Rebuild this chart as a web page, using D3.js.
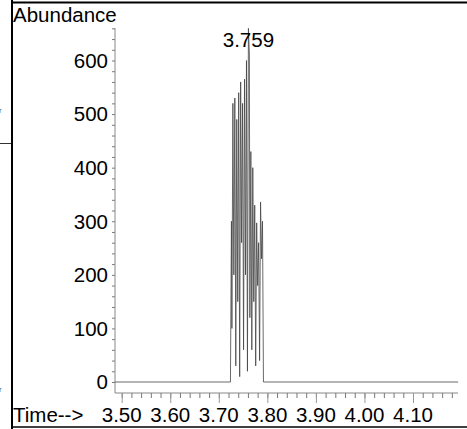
<!DOCTYPE html>
<html>
<head>
<meta charset="utf-8">
<script src="https://cdn.jsdelivr.net/npm/d3@7"></script>
<style>
  body { margin: 0; background: #fff; }
  svg { display: block; }
  text { font-family: "Liberation Sans", Arial, sans-serif; }
</style>
</head>
<body>
<div class="chart"></div>
<script>
// retention times (min) and abundance
var traceTime = [3.486, 3.724, 3.726, 3.727, 3.729, 3.731, 3.733, 3.735, 3.737, 3.739,
  3.741, 3.743, 3.745, 3.747, 3.749, 3.751, 3.753, 3.755, 3.757, 3.759, 3.761,
  3.763, 3.764, 3.766, 3.768, 3.770, 3.772, 3.774, 3.776, 3.778, 3.780, 3.782,
  3.784, 3.786, 3.788, 3.790, 3.792, 4.193];
var traceAbundance = [0, 0, 300, 100, 520, 200, 530, 30, 490, 150,
  540, 10, 560, 260, 520, 60, 565, 200, 600, 20, 660,
  610, 120, 430, 60, 400, 150, 330, 30, 297, 180, 260,
  40, 336, 230, 300, 0, 0];

var yMajorTicks = [0, 100, 200, 300, 400, 500, 600];
var xTickLabels = ["3.50", "3.60", "3.70", "3.80", "3.90", "4.00", "4.10"];
var peakLabel = {time: 3.761, abundance: 660, text: "3.759"};

var svg = d3.select(".chart").append("svg")
  .attr("width", 467)
  .attr("height", 429);

// scales
var x = d3.scaleLinear().domain([3.5, 4.1]).range([121.7, 413]);
var y = d3.scaleLinear().domain([0, 600]).range([382, 60.5]);

var yTop = y.invert(28);

// frame leftovers from the page
svg.append("line").attr("x1", 12).attr("x2", 12).attr("y1", 0).attr("y2", 429)
  .attr("stroke", "#000").attr("stroke-width", 2);
svg.append("line").attr("x1", 12).attr("x2", 467).attr("y1", 2.5).attr("y2", 2.5)
  .attr("stroke", "#000").attr("stroke-width", 2);
svg.append("line").attr("x1", 12).attr("x2", 467).attr("y1", 427).attr("y2", 427)
  .attr("stroke", "#000").attr("stroke-width", 1.5);
svg.append("line").attr("x1", 0).attr("x2", 11).attr("y1", 143.5).attr("y2", 143.5)
  .attr("stroke", "#333").attr("stroke-width", 1);
svg.selectAll("text.stub").data([110, 389]).enter().append("text")
  .attr("class", "stub").attr("x", -1).attr("y", d => d + 3)
  .attr("font-size", 8).attr("fill", "#555").text("r");

// y axis, minor every 20
var yMinor = d3.range(0, yTop, 20);
var yAxis = d3.axisLeft(y).tickValues(yMinor).tickSize(3).tickFormat("");
var gy = svg.append("g").attr("transform", "translate(115,0)").call(yAxis);
gy.select(".domain").remove();
gy.selectAll("line").attr("stroke", "#777");
svg.append("line").attr("x1", 115).attr("x2", 115).attr("y1", 28).attr("y2", 393)
  .attr("stroke", "#888").attr("stroke-width", 1);

svg.selectAll("text.ylab").data(yMajorTicks).enter().append("text")
  .attr("class", "ylab")
  .attr("x", 108)
  .attr("y", d => y(d))
  .attr("dy", "0.36em")
  .attr("text-anchor", "end")
  .attr("font-size", 20.5)
  .text(d => d);

svg.append("text").attr("x", 13).attr("y", 22).attr("font-size", 20.5).text("Abundance");

// x axis
svg.append("line").attr("x1", 115).attr("x2", 458).attr("y1", 393).attr("y2", 393)
  .attr("stroke", "#888").attr("stroke-width", 1);
var xMinor = d3.range(0, 35).map(i => 3.5 + i * 0.02);
var xAxisMinor = d3.axisBottom(x).tickValues(xMinor).tickSize(5).tickFormat("");
var gx = svg.append("g").attr("transform", "translate(0,393)").call(xAxisMinor);
gx.select(".domain").remove();
gx.selectAll("line").attr("stroke", "#777");
var xMajor = xTickLabels.map(Number);
var xAxisMajor = d3.axisBottom(x).tickValues(xMajor).tickSize(10).tickFormat("");
var gx2 = svg.append("g").attr("transform", "translate(0,393)").call(xAxisMajor);
gx2.select(".domain").remove();
gx2.selectAll("line").attr("stroke", "#999");

svg.selectAll("text.xlab").data(xTickLabels).enter().append("text")
  .attr("class", "xlab")
  .attr("x", d => x(+d))
  .attr("y", 422)
  .attr("text-anchor", "middle")
  .attr("font-size", 20.5)
  .text(d => d);

svg.append("text").attr("x", 13).attr("y", 422).attr("font-size", 20.5).text("Time-->");

// chromatogram trace
var pts = traceTime.map((t, i) => [t, traceAbundance[i]]);
var line = d3.line().x(d => x(d[0])).y(d => y(d[1]));
svg.append("path")
  .attr("d", line(pts))
  .attr("fill", "none")
  .attr("stroke", "#444")
  .attr("stroke-width", 0.8);

// peak label
svg.append("text")
  .attr("x", x(peakLabel.time))
  .attr("y", 46.5)
  .attr("text-anchor", "middle")
  .attr("font-size", 20.5)
  .text(peakLabel.text);
</script>
</body>
</html>
